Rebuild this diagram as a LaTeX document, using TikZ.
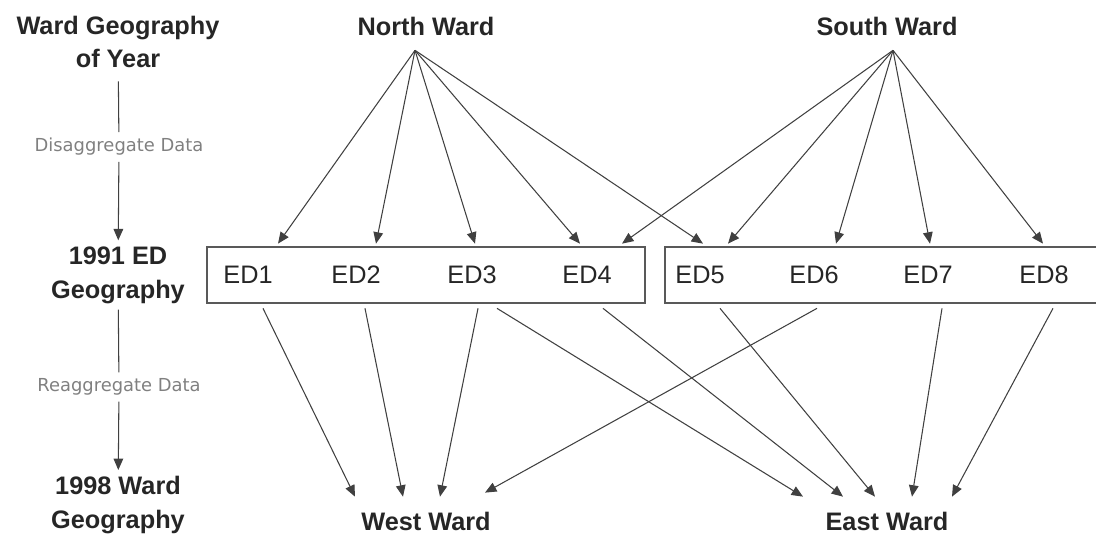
\documentclass[tikz,border=0pt]{standalone}
\usepackage{fontspec}
\setmainfont{Liberation Sans}
\newfontfamily\notefont{DejaVu Sans}
\usepackage{tikz}
\usetikzlibrary{arrows.meta, positioning, calc}
\tikzset{
  stage/.style={font=\fontsize{14.4}{19.3}\selectfont\bfseries, text=black!85, align=center},
  ward/.style={font=\fontsize{14.4}{17}\selectfont\bfseries, text=black!85, inner sep=0, minimum height=0.96cm},
  edtext/.style={font=\fontsize{14.4}{17}\selectfont, text=black!85, inner sep=0, minimum height=1.12cm},
  opnote/.style={font=\notefont\fontsize{10.2}{12}\selectfont, text=black!50},
  edbox/.style={draw=black!65, line width=0.9pt},
  plain/.style={draw=black!75, line width=0.6pt},
  link/.style={plain, -{Triangle[length=6.5pt, width=5.5pt]}}
}
\begin{document}
\begin{tikzpicture}[x={(0.02cm,0)}, y={(0,-0.02cm)}]
    \useasboundingbox (0,0) rectangle (1096,537);
    %left column with the steps
    \node[stage] (wgy) at (118,42) {Ward Geography\\of Year};
    \node[opnote] (dis) at (119,147) {Disaggregate Data};
    \node[stage] (edg) at (118,275) {1991 ED\\Geography};
    \node[opnote] (rea) at (119,387) {Reaggregate Data};
    \node[stage] (wg98) at (118,505) {1998 Ward\\Geography};
    \draw[plain, shorten <=4pt] (wgy) -- (dis);
    \draw[link] (dis) -- (edg);
    \draw[plain] (edg) -- (rea);
    \draw[link] (rea) -- (wg98);
    %the two boxes of EDs
    \draw[edbox] (207,247) rectangle (645,303);
    \draw[edbox] (665,247) rectangle (1100,303);
    \node[edtext] (ed1) at (248,275) {ED1};
    \node[edtext] (ed2) at (356,275) {ED2};
    \node[edtext] (ed3) at (472,275) {ED3};
    \node[edtext] (ed4) at (587,275) {ED4};
    \node[edtext] (ed5) at (700,275) {ED5};
    \node[edtext] (ed6) at (814,275) {ED6};
    \node[edtext] (ed7) at (928,275) {ED7};
    \node[edtext] (ed8) at (1044,275) {ED8};
    %wards of the year and of 1998
    \node[ward] (nw) at (426,26) {North Ward};
    \node[ward] (sw) at (887,26) {South Ward};
    \node[ward] (ww) at (426,521) {West Ward};
    \node[ward] (ew) at (887,521) {East Ward};
    \coordinate (nhub) at ($(nw.south)+(-11,0)$);
    \coordinate (shub) at ($(sw.south)+(6,0)$);
    %disaggregate arrows
    \foreach \t/\dx in {ed1/30, ed2/20, ed3/3, ed4/-7, ed5/3}
      \draw[link] (nhub) -- ($(\t.north)+(\dx,-3)$);
    \foreach \t/\dx in {ed4/35, ed5/28, ed6/22, ed7/2, ed8/-1}
      \draw[link] (shub) -- ($(\t.north)+(\dx,-3)$);
    %reaggregate arrows
    \foreach \s/\dx/\ex/\ey in {ed1/15/-71/0, ed2/9/-23/0, ed3/6/14/0, ed6/3/59/-4}
      \draw[link] ($(\s.south)+(\dx,5)$) -- ($(ww.north)+(\ex,\ey)$);
    \foreach \s/\dx/\ex in {ed3/25/-84, ed4/16/-44, ed5/20/-12, ed7/14/25, ed8/9/65}
      \draw[link] ($(\s.south)+(\dx,5)$) -- ($(ew.north)+(\ex,0)$);
\end{tikzpicture}
\end{document}
